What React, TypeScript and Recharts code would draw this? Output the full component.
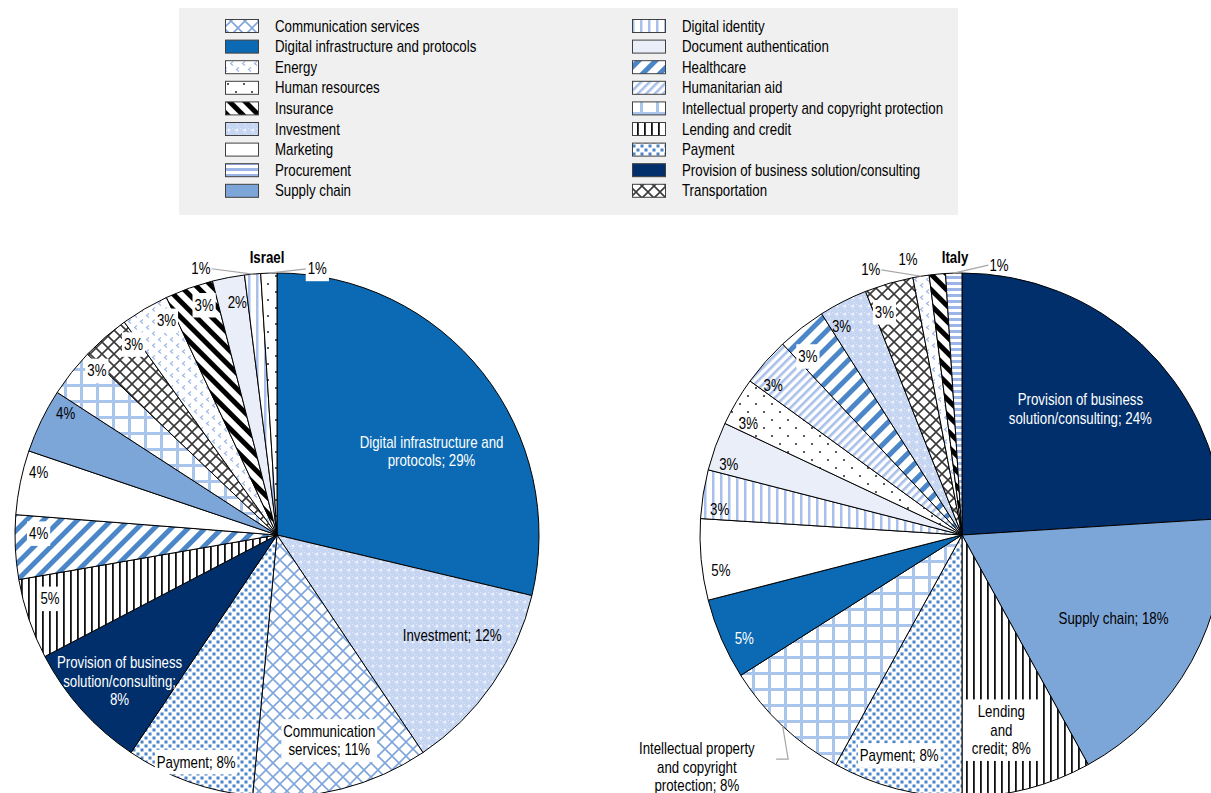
import React from "react";
import { PieChart, Pie, Cell } from "recharts";

// Legend order, two columns of nine
const legendLeft = [
  "Communication services",
  "Digital infrastructure and protocols",
  "Energy",
  "Human resources",
  "Insurance",
  "Investment",
  "Marketing",
  "Procurement",
  "Supply chain",
];
const legendRight = [
  "Digital identity",
  "Document authentication",
  "Healthcare",
  "Humanitarian aid",
  "Intellectual property and copyright protection",
  "Lending and credit",
  "Payment",
  "Provision of business solution/consulting",
  "Transportation",
];

// Israel, clockwise from 12 o'clock
const israelSectors = [
  "Digital infrastructure and protocols",
  "Investment",
  "Communication services",
  "Payment",
  "Provision of business solution/consulting",
  "Lending and credit",
  "Healthcare",
  "Marketing",
  "Supply chain",
  "Intellectual property and copyright protection",
  "Transportation",
  "Energy",
  "Insurance",
  "Document authentication",
  "Digital identity",
  "Human resources",
];
const israelShares = [29, 12, 11, 8, 8, 5, 4, 4, 4, 3, 3, 3, 3, 2, 1, 1];
const israelLabels = [
  "Digital infrastructure and\nprotocols; {v}",
  "Investment; {v}",
  "Communication\nservices; {v}",
  "Payment; {v}",
  "Provision of business\nsolution/consulting;\n{v}",
  "{v}", "{v}", "{v}", "{v}", "{v}", "{v}", "{v}", "{v}", "{v}", "{v}", "{v}",
];

// Italy, clockwise from 12 o'clock
const italySectors = [
  "Provision of business solution/consulting",
  "Supply chain",
  "Lending and credit",
  "Payment",
  "Intellectual property and copyright protection",
  "Digital infrastructure and protocols",
  "Marketing",
  "Digital identity",
  "Document authentication",
  "Human resources",
  "Humanitarian aid",
  "Healthcare",
  "Investment",
  "Transportation",
  "Energy",
  "Insurance",
  "Procurement",
];
const italyShares = [24, 18, 8, 8, 8, 5, 5, 3, 3, 3, 3, 3, 3, 3, 1, 1, 1];
const italyLabels = [
  "Provision of business\nsolution/consulting; {v}",
  "Supply chain; {v}",
  "Lending\nand\ncredit; {v}",
  "Payment; {v}",
  "Intellectual property\nand copyright\nprotection; {v}",
  "{v}", "{v}", "{v}", "{v}", "{v}", "{v}", "{v}", "{v}", "{v}", "{v}", "{v}", "{v}",
];

// ---- styling ----

const FONT = "'Liberation Sans', Arial, sans-serif";
// horizontal squeeze, narrow-face look
const SX = 0.83;

const sectorFill: Record<string, string> = {
  "Communication services": "url(#p-comm)",
  "Digital infrastructure and protocols": "#0b6ab3",
  "Energy": "url(#p-energy)",
  "Human resources": "url(#p-hr)",
  "Insurance": "url(#p-insurance)",
  "Investment": "url(#p-investment)",
  "Marketing": "#ffffff",
  "Procurement": "url(#p-procurement)",
  "Supply chain": "#7ca5d8",
  "Digital identity": "url(#p-digid)",
  "Document authentication": "#e9eef8",
  "Healthcare": "url(#p-health)",
  "Humanitarian aid": "url(#p-human)",
  "Intellectual property and copyright protection": "url(#p-ip)",
  "Lending and credit": "url(#p-lending)",
  "Payment": "url(#p-payment)",
  "Provision of business solution/consulting": "#002f6c",
  "Transportation": "url(#p-transport)",
};

type LabelPos = {
  r: number; // fraction of the outer radius
  a?: number; // clockwise shift from the slice middle, degrees
  box?: boolean;
  color?: string;
  leader?: boolean;
  elbow?: boolean;
};

const israelPos: LabelPos[] = [
  { r: 0.67, a: 10, color: "#fff" },
  { r: 0.77, a: -5 },
  { r: 0.81, box: true },
  { r: 0.92, box: true },
  { r: 0.82, a: -1, color: "#fff" },
  { r: 0.9, a: 3, box: true },
  { r: 0.91, a: 3, box: true },
  { r: 0.94, a: 3 },
  { r: 0.93, a: 4 },
  { r: 0.93, a: 4, box: true },
  { r: 0.91, a: 4, box: true },
  { r: 0.92, a: 3, box: true },
  { r: 0.92, a: 2, box: true },
  { r: 0.9, a: 1 },
  { r: 1.057, a: -10.6, leader: true },
  { r: 1.027, a: 10.4, leader: true, box: true },
];

const italyPos: LabelPos[] = [
  { r: 0.66, color: "#fff" },
  { r: 0.66 },
  { r: 0.76, a: 3, box: true },
  { r: 0.875, a: 1.5, box: true },
  { r: 1.345, a: 5.6, leader: true, elbow: true },
  { r: 0.92, a: -2, color: "#fff" },
  { r: 0.93, a: -3 },
  { r: 0.93, a: -3 },
  { r: 0.93, a: -3 },
  { r: 0.92, a: -3 },
  { r: 0.92, a: -3 },
  { r: 0.9, a: -3, box: true },
  { r: 0.92, a: -3 },
  { r: 0.9, a: -3, box: true },
  { r: 1.07, a: -10, leader: true },
  { r: 1.07, a: -5.7 },
  { r: 1.04, a: 9.6, leader: true },
];

const RAD = Math.PI / 180;
const LINE_H = 18.5;
const CHAR_W = 6.6;

function NarrowText(props: { x: number; y: number; lines: string[]; color?: string; bold?: boolean; anchor?: "start" | "middle" }) {
  const { x, y, lines, color, bold, anchor } = props;
  const top = (-(lines.length - 1) / 2) * LINE_H + 5.5;
  return (
    <g transform={`translate(${x},${y}) scale(${SX},1)`}>
      <text
        x={0}
        y={0}
        textAnchor={anchor ?? "middle"}
        fontFamily={FONT}
        fontSize={16}
        fontWeight={bold ? "bold" : "normal"}
        fill={color ?? "#000"}
      >
        {lines.map((l, i) => (
          <tspan key={i} x={0} dy={i === 0 ? top : LINE_H}>
            {l}
          </tspan>
        ))}
      </text>
    </g>
  );
}

function makeLabel(texts: string[], shares: number[], pos: LabelPos[]) {
  return (props: any) => {
    const { cx, cy, midAngle, outerRadius, index } = props;
    const p = pos[index];
    const lines = texts[index].replace("{v}", `${shares[index]}%`).split("\n");
    const ang = (midAngle - (p.a ?? 0)) * RAD;
    const x = cx + outerRadius * p.r * Math.cos(ang);
    const y = cy - outerRadius * p.r * Math.sin(ang);
    const maxLen = Math.max(...lines.map((l) => l.length));
    const w = maxLen * CHAR_W + 10;
    const h = lines.length * LINE_H + 6;

    let leader: React.ReactNode = null;
    if (p.leader) {
      const mid = midAngle * RAD;
      const px = cx + outerRadius * Math.cos(mid);
      const py = cy - outerRadius * Math.sin(mid);
      const side = px > x ? 1 : -1;
      const half = maxLen * CHAR_W * 0.5;
      const pts = p.elbow
        ? [[px, py], [x + side * (half + 22), y - 8], [x + side * (half + 10), y - 8]]
        : [[px, py], [x + side * (half + 4), y]];
      leader = (
        <polyline
          points={pts.map((q) => q.join(",")).join(" ")}
          fill="none"
          stroke="#a6a6a6"
          strokeWidth={1.2}
        />
      );
    }

    return (
      <g key={`lbl-${index}`}>
        {leader}
        {p.box && <rect x={x - w / 2} y={y - h / 2} width={w} height={h} fill="#fff" />}
        <NarrowText x={x} y={y} lines={lines} color={p.color} />
      </g>
    );
  };
}

function Patterns() {
  return (
    <defs>
      <pattern id="p-comm" width="14" height="14" patternUnits="userSpaceOnUse">
        <rect width="14" height="14" fill="#fff" />
        <path d="M0 0L14 14M14 0L0 14" stroke="#7fa6dc" strokeWidth="1.6" />
      </pattern>
      <pattern id="p-transport" width="12" height="12" patternUnits="userSpaceOnUse">
        <rect width="12" height="12" fill="#fff" />
        <path d="M0 0L12 12M12 0L0 12" stroke="#3a3a3a" strokeWidth="1.6" />
      </pattern>
      <pattern id="p-energy" width="12" height="12" patternUnits="userSpaceOnUse">
        <rect width="12" height="12" fill="#fff" />
        <path d="M5 1.5L2.5 3.5L5 5.5M11 7.5L8.5 9.5L11 11.5" stroke="#9ab5e8" strokeWidth="1.1" fill="none" />
      </pattern>
      <pattern id="p-hr" width="16" height="16" patternUnits="userSpaceOnUse">
        <rect width="16" height="16" fill="#fff" />
        <circle cx="4" cy="4" r="1" fill="#222" />
        <circle cx="12" cy="12" r="1" fill="#222" />
      </pattern>
      <pattern id="p-insurance" width="11" height="11" patternUnits="userSpaceOnUse" patternTransform="rotate(-45)">
        <rect width="11" height="11" fill="#fff" />
        <rect width="5" height="11" fill="#000" />
      </pattern>
      <pattern id="p-investment" width="8" height="8" patternUnits="userSpaceOnUse">
        <rect width="8" height="8" fill="#c6d5f1" />
        <rect x="0" y="0" width="1" height="1" fill="#e4ebf8" />
        <rect x="2" y="2" width="1" height="1" fill="#e4ebf8" />
        <rect x="4" y="4" width="1" height="1" fill="#e4ebf8" />
        <rect x="6" y="6" width="1" height="1" fill="#e4ebf8" />
        <path d="M5 0.5V3.5M3.5 2H6.5" stroke="#fff" strokeWidth="0.9" />
      </pattern>
      <pattern id="p-procurement" width="6" height="6" patternUnits="userSpaceOnUse">
        <rect width="6" height="6" fill="#fff" />
        <rect width="6" height="3" fill="#9ab5e6" />
      </pattern>
      <pattern id="p-digid" width="8" height="8" patternUnits="userSpaceOnUse">
        <rect width="8" height="8" fill="#fff" />
        <rect width="2.5" height="8" fill="#a8c0ea" />
      </pattern>
      <pattern id="p-health" width="12" height="12" patternUnits="userSpaceOnUse" patternTransform="rotate(45)">
        <rect width="12" height="12" fill="#fff" />
        <rect width="5" height="12" fill="#4a86c8" />
      </pattern>
      <pattern id="p-human" width="6" height="6" patternUnits="userSpaceOnUse" patternTransform="rotate(45)">
        <rect width="6" height="6" fill="#fff" />
        <rect width="2.6" height="6" fill="#a9c0ea" />
      </pattern>
      <pattern id="p-ip" width="16" height="16" patternUnits="userSpaceOnUse">
        <rect width="16" height="16" fill="#fff" />
        <rect width="3" height="16" fill="#a9c5ec" />
        <rect width="16" height="3" fill="#a9c5ec" />
      </pattern>
      <pattern id="p-lending" width="7" height="7" patternUnits="userSpaceOnUse">
        <rect width="7" height="7" fill="#fff" />
        <rect width="1.8" height="7" fill="#111" />
      </pattern>
      <pattern id="p-payment" width="8" height="8" patternUnits="userSpaceOnUse">
        <rect width="8" height="8" fill="#fff" />
        <rect x="0.5" y="0.5" width="3" height="3" fill="#4a84c8" />
        <rect x="4.5" y="4.5" width="3" height="3" fill="#4a84c8" />
      </pattern>
    </defs>
  );
}

function Legend() {
  const rowY = (i: number) => 26 + i * 20.6;
  const column = (names: string[], swatchX: number, textX: number) =>
    names.map((n, i) => (
      <g key={n}>
        <rect
          x={swatchX}
          y={rowY(i) - 6.5}
          width={33}
          height={13}
          fill={sectorFill[n]}
          stroke="#404040"
          strokeWidth={1}
        />
        <NarrowText x={textX} y={rowY(i)} lines={[n]} anchor="start" />
      </g>
    ));
  return (
    <g>
      <rect x={179} y={8} width={779} height={207} fill="#f0f0f0" />
      {column(legendLeft, 225.5, 275)}
      {column(legendRight, 632.5, 682)}
    </g>
  );
}

const W = 1211;
const H = 793;
const R = 262;

export default function App() {
  const israelData = israelSectors.map((name, i) => ({ name, value: israelShares[i] }));
  const italyData = italySectors.map((name, i) => ({ name, value: italyShares[i] }));

  return (
    <div style={{ position: "absolute", left: 0, top: 0, width: W, height: H, background: "#fff", overflow: "hidden" }}>
      <svg width={W} height={H} style={{ position: "absolute", left: 0, top: 0 }}>
        <Patterns />
        <Legend />
      </svg>
      <div style={{ position: "absolute", left: 0, top: 0 }}>
        <PieChart width={W} height={H}>
          <Pie
            data={israelData}
            dataKey="value"
            nameKey="name"
            cx={272}
            cy={530}
            outerRadius={R}
            startAngle={90}
            endAngle={-270}
            isAnimationActive={false}
            labelLine={false}
            label={makeLabel(israelLabels, israelShares, israelPos)}
          >
            {israelData.map((d) => (
              <Cell key={d.name} fill={sectorFill[d.name]} stroke="#000" strokeWidth={1} />
            ))}
          </Pie>
          <Pie
            data={italyData}
            dataKey="value"
            nameKey="name"
            cx={957}
            cy={530}
            outerRadius={R}
            startAngle={90}
            endAngle={-270}
            isAnimationActive={false}
            labelLine={false}
            label={makeLabel(italyLabels, italyShares, italyPos)}
          >
            {italyData.map((d) => (
              <Cell key={d.name} fill={sectorFill[d.name]} stroke="#000" strokeWidth={1} />
            ))}
          </Pie>
        </PieChart>
      </div>
      <svg width={W} height={H} style={{ position: "absolute", left: 0, top: 0, pointerEvents: "none" }}>
        <NarrowText x={267} y={257} lines={["Israel"]} bold />
        <NarrowText x={955} y={257} lines={["Italy"]} bold />
      </svg>
    </div>
  );
}
